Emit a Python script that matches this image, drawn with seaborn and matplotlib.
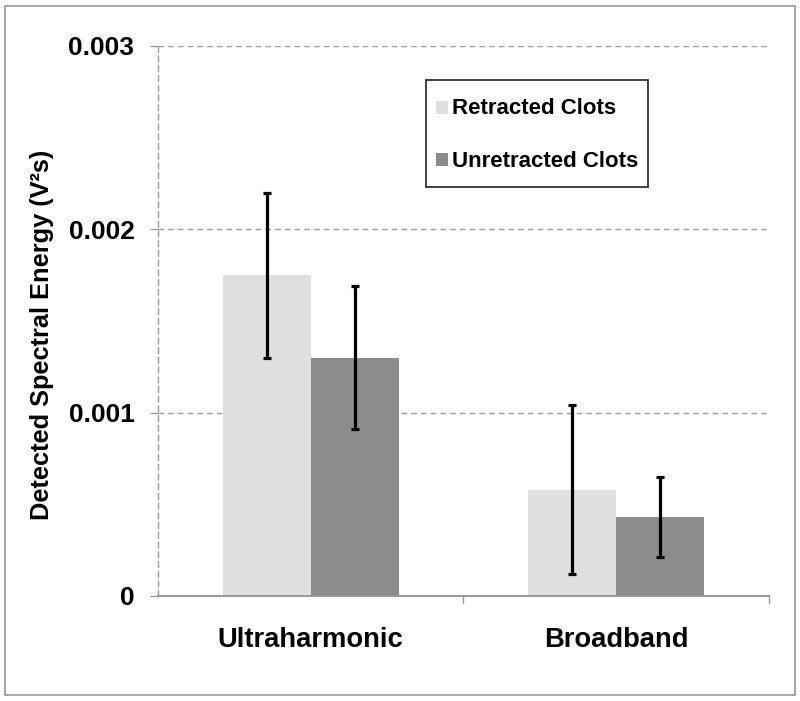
import matplotlib
matplotlib.use("Agg")
import matplotlib.pyplot as plt
import seaborn as sns
import pandas as pd
import numpy as np
from matplotlib.patches import Rectangle, Patch
from matplotlib.legend_handler import HandlerPatch

categories = ["Ultraharmonic", "Broadband"]
groups = ["Retracted Clots", "Unretracted Clots"]
retracted_mean = [0.00175, 0.00058]
retracted_err = [0.00045, 0.00046]
unretracted_mean = [0.00130, 0.00043]
unretracted_err = [0.00039, 0.00022]
yticks = [0, 0.001, 0.002, 0.003]
ytick_labels = ["0", "0.001", "0.002", "0.003"]
colors = ["#e0e0e0", "#8c8c8c"]

df = pd.DataFrame({
    "category": categories * 2,
    "group": [groups[0]] * 2 + [groups[1]] * 2,
    "value": retracted_mean + unretracted_mean,
    "err": retracted_err + unretracted_err,
})

sns.set_style("white")
plt.rcParams["font.family"] = ["Liberation Sans", "DejaVu Sans"]
plt.rcParams["font.weight"] = "bold"
plt.rcParams["text.color"] = "black"
plt.rcParams["axes.labelcolor"] = "black"
plt.rcParams["xtick.color"] = "black"
plt.rcParams["ytick.color"] = "black"

fig = plt.figure(figsize=(8, 7.01), dpi=100)
ax = fig.add_axes([0.1975, 0.1498, 0.7637, 0.7846])

palette = dict(zip(groups, colors))
sns.barplot(data=df, x="category", y="value", hue="group", order=categories,
            hue_order=groups, palette=palette, width=0.576, errorbar=None,
            saturation=1, linewidth=0, ax=ax, legend=False)

# error bars at bar centres
bars = [p for p in ax.patches if p.get_height() > 0]
for p in bars:
    cx = p.get_x() + p.get_width() / 2
    h = p.get_height()
    row = df.loc[np.isclose(df["value"], h)].iloc[0]
    ax.errorbar(cx, h, yerr=row["err"], fmt="none", ecolor="black",
                elinewidth=2.3, capsize=2.6, capthick=2.3, zorder=5)

ax.set_xlim(-0.5, 1.5)
ax.set_ylim(0, 0.003)
ax.set_yticks(yticks)
ax.set_yticklabels(ytick_labels, fontsize=19, fontweight="bold")
ax.set_xticks([0, 1])
ax.set_xticklabels(categories, fontsize=19.7, fontweight="bold")
ax.tick_params(axis="x", length=0, pad=22, labelcolor="black")
ax.tick_params(axis="y", length=6, color="#9a9a9a", width=1, pad=11, left=True,
               labelcolor="black")
ax.set_xlabel("")
ax.set_ylabel("Detected Spectral Energy (V²s)", fontsize=18.3, fontweight="bold")
ax.yaxis.set_label_coords(-0.170, 0.475)

# separator ticks on bottom axis
for xb in [0.5, 1.5]:
    ax.plot([xb, xb], [0, -0.00004], color="#9a9a9a", lw=1, clip_on=False, zorder=3)

for yv in yticks[1:]:
    ax.axhline(yv, color="#9a9a9a", lw=1, ls=(0, (4, 3)), zorder=0)

for s in ["top", "right"]:
    ax.spines[s].set_visible(False)
ax.spines["left"].set_color("#9a9a9a")
ax.spines["left"].set_linestyle((0, (4, 3)))
ax.spines["left"].set_linewidth(1)
ax.spines["bottom"].set_color("#9a9a9a")
ax.spines["bottom"].set_linewidth(1.5)


def small_square(legend, orig_handle, xdescent, ydescent, width, height, fontsize):
    h = width * 1.1
    return Rectangle((-xdescent, -ydescent + (height - h) / 2), width, h)


handles = [Patch(facecolor=c, edgecolor="none") for c in colors]
leg = ax.legend(handles, groups, loc="upper right", bbox_to_anchor=(0.802, 0.938),
                borderaxespad=0, frameon=True, fancybox=False, edgecolor="black",
                fontsize=16, handlelength=0.54, handleheight=2.1, handletextpad=0.22,
                labelspacing=0.75, borderpad=0.42,
                handler_map={Patch: HandlerPatch(patch_func=small_square)})
leg.get_frame().set_linewidth(1.3)
for t in leg.get_texts():
    t.set_fontweight("bold")
    t.set_color("black")

fig.patches.append(Rectangle((5 / 800, 6 / 701), 790 / 800, 689 / 701,
                             transform=fig.transFigure, fill=False,
                             edgecolor="#a0a0a0", lw=1.3))

fig.savefig("out.png", dpi=100)
